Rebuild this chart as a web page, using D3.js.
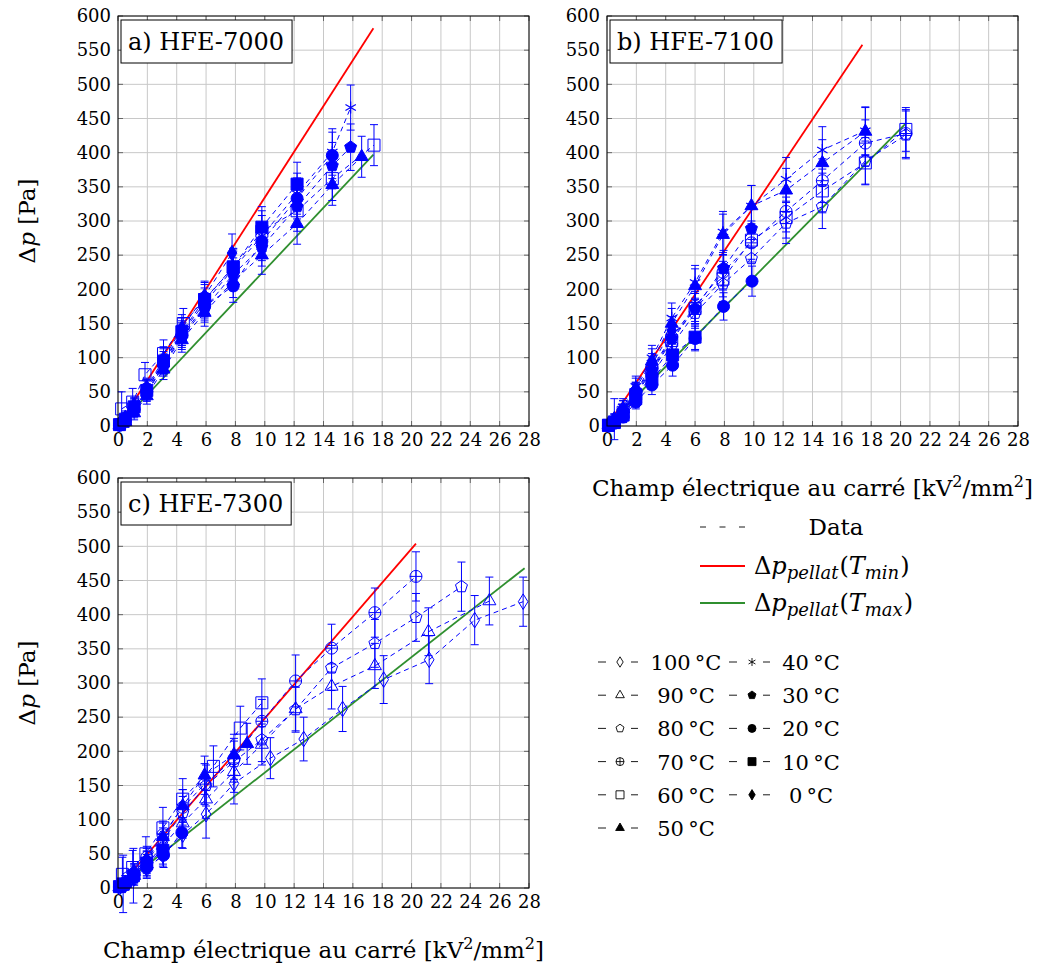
<!DOCTYPE html>
<html><head><meta charset="utf-8">
<script src="https://cdn.jsdelivr.net/npm/d3@7"></script>
<style>
body{margin:0;background:#fff}
svg{display:block}
svg text{font-family:"DejaVu Serif","Liberation Serif","Noto Serif",serif !important;fill:#000}
</style>
</head><body>
<svg id="chart" width="1037" height="970"></svg>
<script>
// ---------- tick labels ----------
const xTicks = [0,2,4,6,8,10,12,14,16,18,20,22,24,26,28];
const yTicks = [0,50,100,150,200,250,300,350,400,450,500,550,600];

// ---------- series definitions (label, marker) ----------
const seriesLabels = ["100\u2009°C","90\u2009°C","80\u2009°C","70\u2009°C","60\u2009°C","50\u2009°C","40\u2009°C","30\u2009°C","20\u2009°C","10\u2009°C","0\u2009°C"];
const seriesMarks  = ["diamond","triangle","pentagon","oplus","square","triangleF","asterisk","pentagonF","circleF","squareF","diamondF"];

// ---------- panel a) HFE-7000 : [E², Δp, error] ----------
const a60 = [[0.25,25,25],[1.0,35,20],[1.84,75,18],[3.1,106,20],[4.45,150,22],[5.9,185,25],[7.85,232,28],[9.8,285,30],[12.2,315,30],[14.6,362,32],[17.44,411,30]];
const a50 = [[0.1,1,5],[0.5,6,8],[1.1,19,10],[1.96,44,12],[3.1,83,15],[4.35,126,18],[5.9,166,20],[7.85,212,24],[9.8,250,28],[12.2,296,30],[14.6,353,30],[16.6,394,30]];
const a40 = [[0.1,2,6],[0.5,9,10],[1.1,26,12],[1.96,54,14],[3.1,93,16],[4.35,136,18],[5.9,180,22],[7.85,230,26],[9.8,278,30],[12.2,340,30],[14.6,401,34],[15.85,466,33]];
const a30 = [[0.1,1,5],[0.5,7,8],[1.1,22,10],[1.96,48,12],[3.1,88,15],[4.35,130,18],[5.9,172,20],[7.85,222,24],[9.8,262,28],[12.2,321,30],[14.6,381,34],[15.85,408,34]];
const a20 = [[0.1,1,5],[0.5,8,8],[1.1,25,10],[1.96,50,12],[3.1,90,15],[4.35,133,18],[5.9,175,20],[7.85,205,24],[9.8,270,28],[12.2,333,30],[14.6,396,34]];
const a10 = [[0.1,2,6],[0.5,10,10],[1.1,28,12],[1.96,52,14],[3.1,95,18],[4.35,138,20],[5.9,185,22],[7.85,233,26],[9.8,291,30],[12.2,354,32]];
const a0  = [[0.1,3,8],[0.5,12,10],[1.1,30,12],[1.96,56,14],[3.1,98,18],[4.35,143,20],[5.9,190,22],[7.77,253,28]];
const aRed   = [[0,0],[17.4,582]];
const aGreen = [[0,0],[17.4,397]];

// ---------- panel b) HFE-7100 ----------
const b80 = [[0.1,1,5],[0.5,5,8],[1.1,18,10],[1.96,42,14],[3.06,75,16],[4.41,118,20],[6.0,165,22],[7.9,208,26],[9.84,245,28],[12.2,297,30],[14.67,321,32],[17.6,388,34],[20.36,426,35]];
const b70 = [[0.1,1,5],[0.5,6,8],[1.1,22,10],[1.96,50,14],[3.06,85,16],[4.41,130,20],[6.0,175,22],[7.9,225,26],[9.84,268,28],[12.2,314,30],[14.67,359,32],[17.6,414,34],[20.36,428,35]];
const b60 = [[0.1,1,5],[0.5,6,8],[1.1,20,10],[1.96,46,14],[3.06,80,16],[4.41,125,20],[6.0,172,22],[7.9,215,26],[9.84,272,28],[12.2,305,30],[14.67,344,32],[17.6,385,32],[20.36,434,32]];
const b50 = [[0.1,2,5],[0.5,7,10],[1.1,25,12],[1.96,55,15],[3.06,95,18],[4.41,150,22],[6.0,205,25],[7.9,280,30],[9.84,322,30],[12.2,345,32],[14.67,385,34],[17.6,431,35]];
const b40 = [[0.1,2,5],[0.5,8,10],[1.1,28,12],[1.96,58,15],[3.06,100,18],[4.41,158,22],[6.0,210,25],[7.9,284,30],[9.84,322,30],[12.2,361,32],[14.67,404,34],[17.6,432,35]];
const b30 = [[0.1,1,5],[0.5,6,8],[1.1,22,10],[1.96,48,14],[3.06,82,16],[4.41,128,20],[6.0,172,22],[7.94,231,26],[9.84,289,28]];
const b20 = [[0.1,0,4],[0.5,4,6],[1.1,13,8],[1.96,35,10],[3.06,60,14],[4.47,89,16],[6.0,128,18],[7.94,175,20],[9.88,212,22]];
const b10 = [[0.1,1,5],[0.5,5,8],[1.1,16,10],[1.96,40,12],[3.06,68,14],[4.47,104,16],[6.0,130,18]];
const b0  = [[0.1,2,5],[0.5,10,30],[1.1,25,12],[1.96,50,14],[3.06,90,16],[4.41,140,20]];
const bRed   = [[0,0],[17.4,558]];
const bGreen = [[0,0],[20.36,443]];

// ---------- panel c) HFE-7300 ----------
const c100 = [[0.1,1,5],[0.5,5,8],[1.1,14,10],[1.96,28,14],[3.06,48,16],[4.41,78,20],[6.0,108,35],[7.9,153,30],[10.38,190,30],[12.65,218,32],[15.3,262,33],[18.1,305,35],[21.2,334,35],[24.3,392,36],[27.6,419,36]];
const c90  = [[0.1,1,5],[0.5,6,8],[1.1,18,10],[1.96,35,14],[3.06,62,16],[4.41,95,22],[6.0,130,28],[7.9,170,30],[9.8,210,30],[12.1,262,32],[14.55,295,33],[17.5,325,33],[21.15,375,35],[25.3,420,35]];
const c80  = [[0.1,1,5],[0.5,7,8],[1.1,20,12],[1.96,40,14],[3.06,70,18],[4.41,110,24],[6.0,150,30],[7.9,185,30],[9.8,217,32],[12.1,261,33],[14.55,322,33],[17.5,358,35],[20.3,396,35],[23.4,441,36]];
const c70  = [[0.1,2,5],[0.5,8,10],[1.1,22,12],[1.96,45,16],[3.06,78,20],[4.41,118,26],[5.9,152,30],[7.9,189,30],[9.8,244,32],[12.1,303,38],[14.55,351,35],[17.5,403,36],[20.3,456,36]];
const c60  = [[0.3,20,25],[1.0,30,25],[1.9,50,25],[3.06,88,30],[4.41,130,30],[6.5,178,30],[8.33,234,32],[9.8,271,35]];
const c50  = [[0.1,2,5],[0.5,8,10],[1.1,24,12],[1.96,42,16],[3.06,75,20],[4.41,120,24],[5.9,165,28],[7.9,195,30],[8.8,211,30]];
const c20  = [[0.1,1,5],[0.5,5,8],[1.1,16,10],[1.96,30,14],[3.1,48,18],[4.35,81,22]];
const c10  = [[0.1,2,5],[0.35,6,42],[1.05,18,40],[1.96,36,18],[3.06,55,20]];
const cRed   = [[0,0],[20.3,504]];
const cGreen = [[0,0],[27.7,468]];

// ---------- build panels ----------
const panels = [
  {title:"a) HFE-7000", left:118, top:16, yTitle:true,  xTitle:false, red:aRed, green:aGreen,
   data:{"60\u2009°C":a60,"50\u2009°C":a50,"40\u2009°C":a40,"30\u2009°C":a30,"20\u2009°C":a20,"10\u2009°C":a10,"0\u2009°C":a0}},
  {title:"b) HFE-7100", left:607, top:16, yTitle:false, xTitle:true, red:bRed, green:bGreen,
   data:{"80\u2009°C":b80,"70\u2009°C":b70,"60\u2009°C":b60,"50\u2009°C":b50,"40\u2009°C":b40,"30\u2009°C":b30,"20\u2009°C":b20,"10\u2009°C":b10,"0\u2009°C":b0}},
  {title:"c) HFE-7300", left:118, top:478, yTitle:true, xTitle:true, red:cRed, green:cGreen,
   data:{"100\u2009°C":c100,"90\u2009°C":c90,"80\u2009°C":c80,"70\u2009°C":c70,"60\u2009°C":c60,"50\u2009°C":c50,"20\u2009°C":c20,"10\u2009°C":c10}}
];

const W = 411, H = 410;
const BLUE = "#0000ff", RED = "#ff0000", GREEN = "#2f8f2f";
const FT = 18, FL = 23;
const svg = d3.select("#chart");
svg.append("rect").attr("width",1037).attr("height",970).attr("fill","#fff");

function markerPath(type, r){
  const t = type.replace(/F$/,"");
  if (t==="diamond") return `M0,${-r*1.3}L${r*0.8},0L0,${r*1.3}L${-r*0.8},0Z`;
  if (t==="triangle"){const h=r*1.25;return `M0,${-h}L${h*0.866},${h*0.5}L${-h*0.866},${h*0.5}Z`;}
  if (t==="pentagon"){let p="";for(let k=0;k<5;k++){const a=-Math.PI/2+k*2*Math.PI/5;p+=(k?"L":"M")+(r*1.05*Math.cos(a)).toFixed(2)+","+(r*1.05*Math.sin(a)).toFixed(2);}return p+"Z";}
  if (t==="square") return `M${-r},${-r}h${2*r}v${2*r}h${-2*r}Z`;
  if (t==="circle") return `M${r},0A${r},${r} 0 1,1 ${-r},0A${r},${r} 0 1,1 ${r},0Z`;
  if (t==="oplus") return `M${r},0A${r},${r} 0 1,1 ${-r},0A${r},${r} 0 1,1 ${r},0ZM${-r},0H${r}M0,${-r}V${r}`;
  if (t==="asterisk"){let p="";for(let k=0;k<3;k++){const a=Math.PI/2+k*Math.PI/3;p+=`M${(r*Math.cos(a)).toFixed(2)},${(r*Math.sin(a)).toFixed(2)}L${(-r*Math.cos(a)).toFixed(2)},${(-r*Math.sin(a)).toFixed(2)}`;}return p;}
  return "";
}
function drawMarker(g, type, cx, cy, r){
  const filled = /F$/.test(type);
  g.append("path").attr("d", markerPath(type, r))
   .attr("transform", `translate(${cx},${cy})`)
   .attr("fill", filled ? BLUE : "none")
   .attr("stroke", BLUE).attr("stroke-width", type==="asterisk"?1.2:1);
}

panels.forEach(p => {
  const x = d3.scaleLinear().domain([0,28]).range([p.left, p.left+W]);
  const y = d3.scaleLinear().domain([0,600]).range([p.top+H, p.top]);
  const g = svg.append("g");

  // grid
  g.append("g").selectAll("line").data(xTicks).join("line")
    .attr("x1",d=>x(d)).attr("x2",d=>x(d)).attr("y1",y(0)).attr("y2",y(600))
    .attr("stroke","#c8c8c8").attr("stroke-width",1);
  g.append("g").selectAll("line").data(yTicks).join("line")
    .attr("y1",d=>y(d)).attr("y2",d=>y(d)).attr("x1",x(0)).attr("x2",x(28))
    .attr("stroke","#c8c8c8").attr("stroke-width",1);

  // inward ticks on all sides
  const tk = g.append("g").attr("stroke","#666").attr("stroke-width",1);
  xTicks.forEach(t=>{
    tk.append("line").attr("x1",x(t)).attr("x2",x(t)).attr("y1",y(0)).attr("y2",y(0)-5);
    tk.append("line").attr("x1",x(t)).attr("x2",x(t)).attr("y1",y(600)).attr("y2",y(600)+5);
  });
  yTicks.forEach(t=>{
    tk.append("line").attr("y1",y(t)).attr("y2",y(t)).attr("x1",x(0)).attr("x2",x(0)+5);
    tk.append("line").attr("y1",y(t)).attr("y2",y(t)).attr("x1",x(28)).attr("x2",x(28)-5);
  });

  // tick labels through d3 axes
  const ax = g.append("g").attr("transform",`translate(0,${y(0)})`)
    .call(d3.axisBottom(x).tickValues(xTicks).tickSize(0).tickPadding(7).tickFormat(d3.format("d")));
  ax.select(".domain").remove();
  ax.selectAll("text").attr("font-size",FT).attr("fill","#000");
  const ay = g.append("g").attr("transform",`translate(${x(0)},0)`)
    .call(d3.axisLeft(y).tickValues(yTicks).tickSize(0).tickPadding(7).tickFormat(d3.format("d")));
  ay.select(".domain").remove();
  ay.selectAll("text").attr("font-size",FT).attr("fill","#000");

  // model lines
  const line = d3.line().x(d=>x(d[0])).y(d=>y(d[1]));
  g.append("path").attr("d",line(p.red)).attr("fill","none").attr("stroke",RED).attr("stroke-width",1.8);
  g.append("path").attr("d",line(p.green)).attr("fill","none").attr("stroke",GREEN).attr("stroke-width",1.8);

  // data series
  seriesLabels.forEach((lab,i) => {
    const d = p.data[lab];
    if (!d) return;
    const mk = seriesMarks[i];
    const sg = g.append("g");
    sg.append("path").attr("d",line(d)).attr("fill","none").attr("stroke",BLUE)
      .attr("stroke-width",1).attr("stroke-dasharray","5,4");
    d.forEach(v=>{
      const cx = x(v[0]);
      sg.append("line").attr("x1",cx).attr("x2",cx).attr("y1",y(v[1]+v[2])).attr("y2",y(v[1]-v[2]))
        .attr("stroke",BLUE).attr("stroke-width",1);
      [y(v[1]+v[2]), y(v[1]-v[2])].forEach(yy=>{
        sg.append("line").attr("x1",cx-4).attr("x2",cx+4).attr("y1",yy).attr("y2",yy)
          .attr("stroke",BLUE).attr("stroke-width",1);
      });
      drawMarker(sg, mk, cx, y(v[1]), 6);
    });
  });

  // frame
  g.append("rect").attr("x",x(0)).attr("y",y(600)).attr("width",W).attr("height",H)
    .attr("fill","none").attr("stroke","#000").attr("stroke-width",1);

  // panel title box
  const tb = g.append("g");
  const tt = tb.append("text").attr("x",x(0)+10).attr("y",y(600)+34)
    .attr("font-size",FL+1).text(p.title);
  const bb = tt.node().getBBox();
  tb.insert("rect","text").attr("x",x(0)+3).attr("y",y(600)+4)
    .attr("width",bb.width+15).attr("height",43)
    .attr("fill","#fff").attr("stroke","#000").attr("stroke-width",1);

  if (p.yTitle){
    const yt = g.append("text").attr("transform",`translate(${p.left-83},${p.top+H/2}) rotate(-90)`)
      .attr("text-anchor","middle").attr("font-size",FL);
    yt.append("tspan").text("Δ");
    yt.append("tspan").attr("font-style","italic").text("p");
    yt.append("tspan").text(" [Pa]");
  }
  if (p.xTitle){
    const xt = g.append("text").attr("x",p.left+W/2).attr("y",p.top+H+70)
      .attr("text-anchor","middle").attr("font-size",FL);
    xt.append("tspan").text("Champ électrique au carré [kV");
    xt.append("tspan").attr("dy",-9).attr("font-size",16).text("2");
    xt.append("tspan").attr("dy",9).text("/mm");
    xt.append("tspan").attr("dy",-9).attr("font-size",16).text("2");
    xt.append("tspan").attr("dy",9).text("]");
  }
});

// ---------- upper legend ----------
const lg = svg.append("g");
lg.append("line").attr("x1",700).attr("x2",745).attr("y1",527).attr("y2",527)
  .attr("stroke","#000").attr("stroke-width",0.9).attr("stroke-dasharray","6,13.5");
lg.append("text").attr("x",836).attr("y",535).attr("text-anchor","middle").attr("font-size",FL).text("Data");
[[RED,566,"min"],[GREEN,603,"max"]].forEach(([c,yy,s])=>{
  lg.append("line").attr("x1",700).attr("x2",745).attr("y1",yy).attr("y2",yy)
    .attr("stroke",c).attr("stroke-width",1.8);
  const t = lg.append("text").attr("x",754).attr("y",yy+8).attr("font-size",FL+1);
  t.append("tspan").text("Δ");
  t.append("tspan").attr("font-style","italic").text("p");
  t.append("tspan").attr("font-style","italic").attr("font-size",18).attr("dy",5).text("pellat");
  t.append("tspan").attr("dy",-5).attr("dx",1).text("(");
  t.append("tspan").attr("font-style","italic").text("T");
  t.append("tspan").attr("font-style","italic").attr("font-size",18).attr("dy",5).text(s);
  t.append("tspan").attr("dy",-5).attr("dx",1).text(")");
});

// ---------- marker legend ----------
const ml = svg.append("g");
seriesLabels.forEach((lab,i)=>{
  const col = i<6 ? 0 : 1, row = i<6 ? i : i-6;
  const yy = 662 + row*33.2;
  const x0 = col===0 ? 598 : 729;
  const mx = col===0 ? 620 : 752;
  ml.append("line").attr("x1",x0).attr("x2",x0+8).attr("y1",yy).attr("y2",yy).attr("stroke","#000").attr("stroke-width",0.9);
  ml.append("line").attr("x1",mx+11).attr("x2",mx+18).attr("y1",yy).attr("y2",yy).attr("stroke","#000").attr("stroke-width",0.9);
  const m = seriesMarks[i];
  const filled = /F$/.test(m);
  ml.append("path").attr("d",markerPath(m,4)).attr("transform",`translate(${mx},${yy})`)
    .attr("fill",filled?"#000":"none").attr("stroke","#000").attr("stroke-width",0.9);
  ml.append("text").attr("x",col===0?686:811).attr("y",yy+8).attr("text-anchor","middle")
    .attr("font-size",FL-2).text(lab);
});
</script>
</body></html>
